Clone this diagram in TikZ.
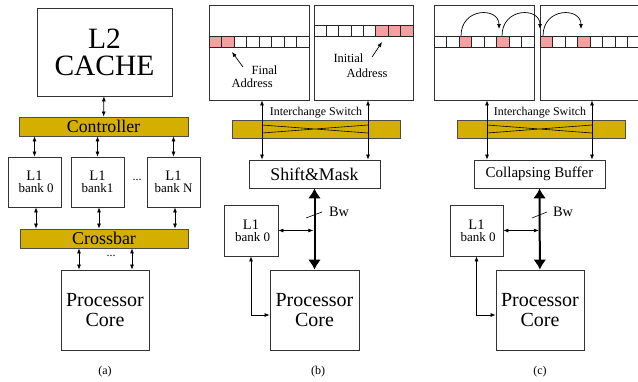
\documentclass[tikz,border=0pt]{standalone}
\usepackage{fontspec}
\setmainfont{Liberation Serif}
\usetikzlibrary{arrows.meta,positioning}
\definecolor{gold}{RGB}{212,175,0}
\definecolor{cellpink}{RGB}{245,160,160}
\tikzstyle{boxstyle}=[draw=black!80,line width=0.8pt,fill=white,inner sep=0pt,align=center]
\tikzstyle{barstyle}=[draw=black!70,line width=0.8pt,fill=gold,inner sep=0pt]
\tikzstyle{dbl}=[{Latex[length=5pt,width=4pt]}-{Latex[length=5pt,width=4pt]},line width=0.7pt]
\tikzstyle{ptr}=[-{Latex[length=5pt,width=4pt]},line width=0.7pt]
\tikzstyle{bus}=[{Latex[length=10pt,width=13pt]}-{Latex[length=10pt,width=13pt]},line width=2pt]
\tikzstyle{cell}=[draw=black!85,line width=0.8pt]

\begin{document}
\begin{tikzpicture}[x=1pt,y=-1pt]
	\tikzstyle{bank}=[boxstyle,minimum width=53pt,minimum height=50pt]
	\tikzstyle{core}=[boxstyle,minimum width=88pt,minimum height=80pt,font=\fontsize{20}{20}\selectfont]
	\tikzstyle{swlabel}=[font=\fontsize{11.9}{13}\selectfont]
	\tikzstyle{dotstyle}=[inner sep=0pt,font=\fontsize{12}{14}\selectfont]
	\useasboundingbox (0,0) rectangle (638,381);

	% (a) cache hierarchy
	\node[boxstyle,minimum width=135pt,minimum height=88pt,font=\fontsize{29.5}{27}\selectfont] (l2) at (104.5,52) {L2\\CACHE};
	\node[barstyle,minimum width=169pt,minimum height=19pt,font=\fontsize{17.8}{18}\selectfont] (ctrl) at (103.5,126.5) {Controller};
	\node[bank] (bank0) at (34.5,182) {\fontsize{14.5}{16}\selectfont L1\\\fontsize{13}{16}\selectfont\ bank 0};
	\node[bank] (bank1) at (97.5,182) {\fontsize{14.5}{16}\selectfont L1\\\fontsize{13}{16}\selectfont bank1};
	\node[bank] (bankN) at (173.5,182) {\fontsize{14.5}{16}\selectfont L1\\\fontsize{13}{16}\selectfont bank N};
		\node[dotstyle] (dotsa) at (137,180) {...};
	\node[barstyle,minimum width=168pt,minimum height=19pt,font=\fontsize{18}{18}\selectfont] (xbar) at (104,238.5) {Crossbar};
	\node[core] (corea) at (105,310) {Processor\\Core};
		\node[dotstyle] (dotsb) at (111,256) {...};
	\node[font=\fontsize{12}{14}\selectfont] (capa) at (105,372) {(a)};

	\draw[dbl] (l2) -- (ctrl);
	\foreach \b in {bank0,bank1,bankN}{
		\draw[dbl] (\b.north |- ctrl.south) -- (\b.north);
		\draw[dbl] ([xshift=1.5pt]\b.south) -- ([xshift=1.5pt]\b.south |- xbar.north);
	}
	\draw[dbl] ([xshift=-26pt]xbar.south -| corea.north) -- ([xshift=-26pt]corea.north);
	\draw[dbl] ([xshift=27pt]xbar.south -| corea.north) -- ([xshift=27pt]corea.north);

	% (b) shift and mask
	\node[boxstyle,minimum width=100pt,minimum height=95pt] (finalbox) at (259,52.5) {};
	\node[boxstyle,minimum width=99pt,minimum height=95pt] (initbox) at (363.5,52.5) {};
	\foreach \i in {0,...,7}
		\draw[cell,fill=white] (209+12.5*\i,36) rectangle ++(12.5,11);
	\foreach \i in {0,1}
		\draw[cell,fill=cellpink] (209+12.5*\i,36) rectangle ++(12.5,11);
	\foreach \i in {0,...,7}
		\draw[cell,fill=white] (314+12.375*\i,25) rectangle ++(12.375,11);
	\foreach \i in {5,6,7}
		\draw[cell,fill=cellpink] (314+12.375*\i,25) rectangle ++(12.375,11);
	\node[align=left,inner sep=0pt,font=\fontsize{12.5}{13}\selectfont] (finaltxt) at (254.5,77) {\hspace*{20pt}Final\\Address};
	\node[align=left,inner sep=0pt,font=\fontsize{12.5}{15}\selectfont] (inittxt) at (360.5,66) {Initial\\\hspace*{13pt}Address};
	\coordinate (fa0) at (243,67);
	\coordinate (fa1) at (232,52);
	\coordinate (ia0) at (372,57);
	\coordinate (ia1) at (382,42);
	\draw[ptr] (fa0) -- (fa1);
	\draw[ptr] (ia0) -- (ia1);

	\node[barstyle,minimum width=168pt,minimum height=18pt] (switchb) at (316,129) {};
	\node[swlabel] (swlabb) at (316,112.5) {Interchange Switch};
	\node[boxstyle,minimum width=131pt,minimum height=28pt,font=\fontsize{17.8}{18}\selectfont] (shiftmask) at (314.5,174) {Shift\&Mask};
	\node[bank,minimum width=54pt,minimum height=51pt] (l1b) at (251,230.5) {\fontsize{14.5}{16}\selectfont L1\\\fontsize{13}{16}\selectfont\ bank 0};
	\node[core,minimum width=89pt] (coreb) at (314.5,310) {Processor\\Core};
	\node[font=\fontsize{12}{14}\selectfont] (capb) at (318,372) {(b)};

	\coordinate (xb1) at (262,125);
	\coordinate (xb2) at (368,133);
	\coordinate (xb3) at (262,133);
	\coordinate (xb4) at (368,125);
	\draw[line width=0.6pt] (xb1) -- (xb2) (xb3) -- (xb4);
	\draw[dbl] ([xshift=3pt]finalbox.south) -- ([xshift=3pt]finalbox.south |- shiftmask.north);
	\draw[dbl] ([xshift=4.5pt]initbox.south) -- ([xshift=4.5pt]initbox.south |- shiftmask.north);
	\draw[bus] (shiftmask) -- (coreb);
	\coordinate (swb0) at (306,218);
	\coordinate (swb1) at (322,212);
	\draw[line width=0.6pt] (swb0) -- (swb1);
	\node[font=\fontsize{14.4}{16}\selectfont] (bwb) at (339,212) {Bw};
	\draw[dbl] (l1b.east) -- ([xshift=-1.2pt]l1b.east -| coreb.north);
	\draw[dbl] (l1b.south) |- ([yshift=-5pt]coreb.west);

	% (c) collapsing buffer
	\node[boxstyle,minimum width=100pt,minimum height=95pt] (lbox) at (484,52.5) {};
	\node[boxstyle,minimum width=100pt,minimum height=95pt] (rbox) at (590,52.5) {};
	\foreach \i in {0,...,7}{
		\draw[cell,fill=white] (434+12.5*\i,36) rectangle ++(12.5,11);
		\draw[cell,fill=white] (540+12.5*\i,36) rectangle ++(12.5,11);
	}
	\foreach \i in {2,5}
		\draw[cell,fill=cellpink] (434+12.5*\i,36) rectangle ++(12.5,11);
	\foreach \i in {0,3}
		\draw[cell,fill=cellpink] (540+12.5*\i,36) rectangle ++(12.5,11);
	\foreach \s in {461,502,543}
		\draw[ptr] (\s,36) .. controls (\s,7) and (\s+38,7) .. (\s+38,29);

	\node[barstyle,minimum width=168pt,minimum height=18pt] (switchc) at (541,129) {};
	\node[swlabel] (swlabc) at (540,112.5) {Interchange Switch};
	\node[boxstyle,minimum width=131pt,minimum height=28pt,font=\fontsize{15}{16}\selectfont] (collapse) at (539.5,174) {Collapsing Buffer};
	\node[bank,minimum height=51pt] (l1c) at (476.5,230.5) {\fontsize{14.5}{16}\selectfont L1\\\fontsize{13}{16}\selectfont\ bank 0};
	\node[core] (corec) at (540,310) {Processor\\Core};
	\node[font=\fontsize{12}{14}\selectfont] (capc) at (540,372) {(c)};

	\coordinate (xc1) at (487,125);
	\coordinate (xc2) at (592,133);
	\coordinate (xc3) at (487,133);
	\coordinate (xc4) at (592,125);
	\draw[line width=0.6pt] (xc1) -- (xc2) (xc3) -- (xc4);
	\draw[dbl] ([xshift=3pt]lbox.south) -- ([xshift=3pt]lbox.south |- collapse.north);
	\draw[dbl] ([xshift=2pt]rbox.south) -- ([xshift=2pt]rbox.south |- collapse.north);
	\draw[bus] (collapse) -- (corec);
	\coordinate (swc0) at (532,218);
	\coordinate (swc1) at (547,212);
	\draw[line width=0.6pt] (swc0) -- (swc1);
	\node[font=\fontsize{14.4}{16}\selectfont] (bwc) at (563,212) {Bw};
	\draw[dbl] (l1c.east) -- ([xshift=-1.2pt]l1c.east -| corec.north);
	\draw[dbl] (l1c.south) |- ([yshift=-5pt]corec.west);
\end{tikzpicture}
\end{document}
